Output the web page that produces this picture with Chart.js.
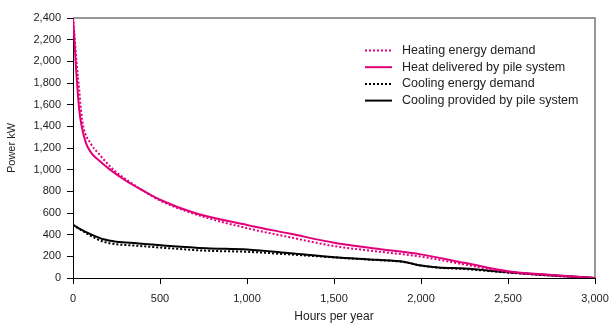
<!DOCTYPE html>
<html>
<head>
<meta charset="utf-8">
<script src="https://cdn.jsdelivr.net/npm/chart.js@4.4.1/dist/chart.umd.min.js"></script>
<style>
  html, body { margin: 0; padding: 0; background: #fff; }
  #wrap { width: 609px; height: 324px; }
</style>
</head>
<body>
<div id="wrap"><canvas id="chart" width="609" height="324"></canvas></div>
<script>
// values (hours per year vs kW)
const heatDemandHours = [0, 8, 20, 35, 46, 59, 101, 146, 232, 300, 400, 500, 700, 1000, 1250, 1500, 1750, 2000, 2250, 2500, 2750, 3000]
const heatDemandKw    = [2400, 2250, 2000, 1750, 1551, 1400, 1243, 1151, 1000, 915, 810, 715, 590, 460, 375, 295, 245, 197, 125, 55, 22, 0]

const heatDeliveredHours = [0, 6, 17, 36, 50, 75, 107, 150, 213, 300, 400, 500, 700, 1000, 1250, 1500, 1750, 2000, 2250, 2500, 2750, 3000]
const heatDeliveredKw    = [2400, 2258, 1950, 1551, 1400, 1243, 1151, 1085, 1000, 902, 808, 722, 600, 490, 408, 326, 270, 218, 140, 62, 28, 0]

const coolDemandHours = [0, 50, 100, 175, 250, 366, 557, 767, 1000, 1250, 1500, 1750, 1900, 2000, 2100, 2250, 2500, 2750, 3000]
const coolDemandKw    = [490, 440, 391, 335, 312, 298, 274, 252, 242, 217, 190, 165, 148, 115, 95, 83, 50, 22, 0]

const coolProvidedHours = [0, 50, 100, 175, 250, 366, 557, 767, 1000, 1250, 1500, 1750, 1900, 2000, 2100, 2250, 2500, 2750, 3000]
const coolProvidedKw    = [490, 445, 405, 357, 335, 320, 295, 274, 262, 228, 192, 168, 150, 115, 97, 87, 53, 25, 0]

const seriesLabels = [
    "Heating energy demand",
    "Heat delivered by pile system",
    "Cooling energy demand",
    "Cooling provided by pile system",
]

const pink = "#e2007a"
const family = "'Liberation Sans', Arial, sans-serif"
const tickFont = { family: family, size: 11 }
const titleFont = { family: family, size: 12 }

const pts = (xs, ys) => xs.map((x, i) => ({ x: x, y: ys[i] }))

const line = (label, data, color, dashed) => ({
    label: label,
    data: data,
    borderColor: color,
    backgroundColor: color,
    borderWidth: 2,
    borderDash: dashed ? [2, 2] : [],
    pointRadius: 0,
    fill: false,
    cubicInterpolationMode: "monotone",
})

// grey frame on top and right of plot
const framePlugin = {
    id: "frame",
    beforeDatasetsDraw(chart) {
        const { ctx, chartArea: a } = chart
        ctx.save()
        ctx.strokeStyle = "#777"
        ctx.lineWidth = 1.5
        ctx.beginPath()
        ctx.moveTo(a.left, a.top)
        ctx.lineTo(a.right, a.top)
        ctx.lineTo(a.right, a.bottom)
        ctx.stroke()
        ctx.restore()
    },
}

// legend inside the plot, top right
const legendPlugin = {
    id: "insideLegend",
    afterDraw(chart) {
        const ctx = chart.ctx
        ctx.save()
        chart.data.datasets.forEach((ds, i) => {
            const y = 50.5 + i * 16.7
            ctx.strokeStyle = ds.borderColor
            ctx.lineWidth = 2
            ctx.setLineDash(ds.borderDash)
            ctx.beginPath()
            ctx.moveTo(365, y)
            ctx.lineTo(392, y)
            ctx.stroke()
            ctx.setLineDash([])
            ctx.fillStyle = "#222"
            ctx.font = "12.5px " + family
            ctx.textBaseline = "middle"
            ctx.textAlign = "left"
            ctx.fillText(ds.label, 402, y)
        })
        ctx.restore()
    },
}

new Chart(document.getElementById("chart"), {
    type: "line",
    data: {
        datasets: [
            line(seriesLabels[0], pts(heatDemandHours, heatDemandKw), pink, true),
            line(seriesLabels[1], pts(heatDeliveredHours, heatDeliveredKw), pink, false),
            line(seriesLabels[2], pts(coolDemandHours, coolDemandKw), "#000", true),
            line(seriesLabels[3], pts(coolProvidedHours, coolProvidedKw), "#000", false),
        ],
    },
    options: {
        responsive: false,
        animation: false,
        layout: { padding: { top: 18, right: 14, left: 0, bottom: 0 } },
        plugins: {
            legend: { display: false },
            tooltip: { enabled: false },
        },
        scales: {
            x: {
                type: "linear",
                min: 0,
                max: 3000,
                ticks: { stepSize: 500, font: tickFont, color: "#222", padding: 8, maxRotation: 0 },
                grid: { drawOnChartArea: false, drawTicks: true, tickLength: 6, tickColor: "#000" },
                border: { color: "#000", width: 1 },
                title: { display: true, text: "Hours per year", font: titleFont, color: "#222", padding: { top: 0, bottom: 0 } },
                afterFit(scale) {
                    scale.height = 46
                    scale.paddingLeft = 0
                    scale.paddingRight = 0
                },
            },
            y: {
                min: 0,
                max: 2400,
                ticks: { stepSize: 200, font: tickFont, color: "#222", padding: 6 },
                grid: { drawOnChartArea: false, drawTicks: true, tickLength: 6, tickColor: "#000" },
                border: { color: "#000", width: 1 },
                title: { display: true, text: "Power kW", font: tickFont, color: "#222", padding: { top: 5, bottom: 0 } },
                afterFit(scale) {
                    scale.width = 73
                    scale.paddingTop = 0
                    scale.paddingBottom = 0
                },
            },
        },
    },
    plugins: [framePlugin, legendPlugin],
})
</script>
</body>
</html>
